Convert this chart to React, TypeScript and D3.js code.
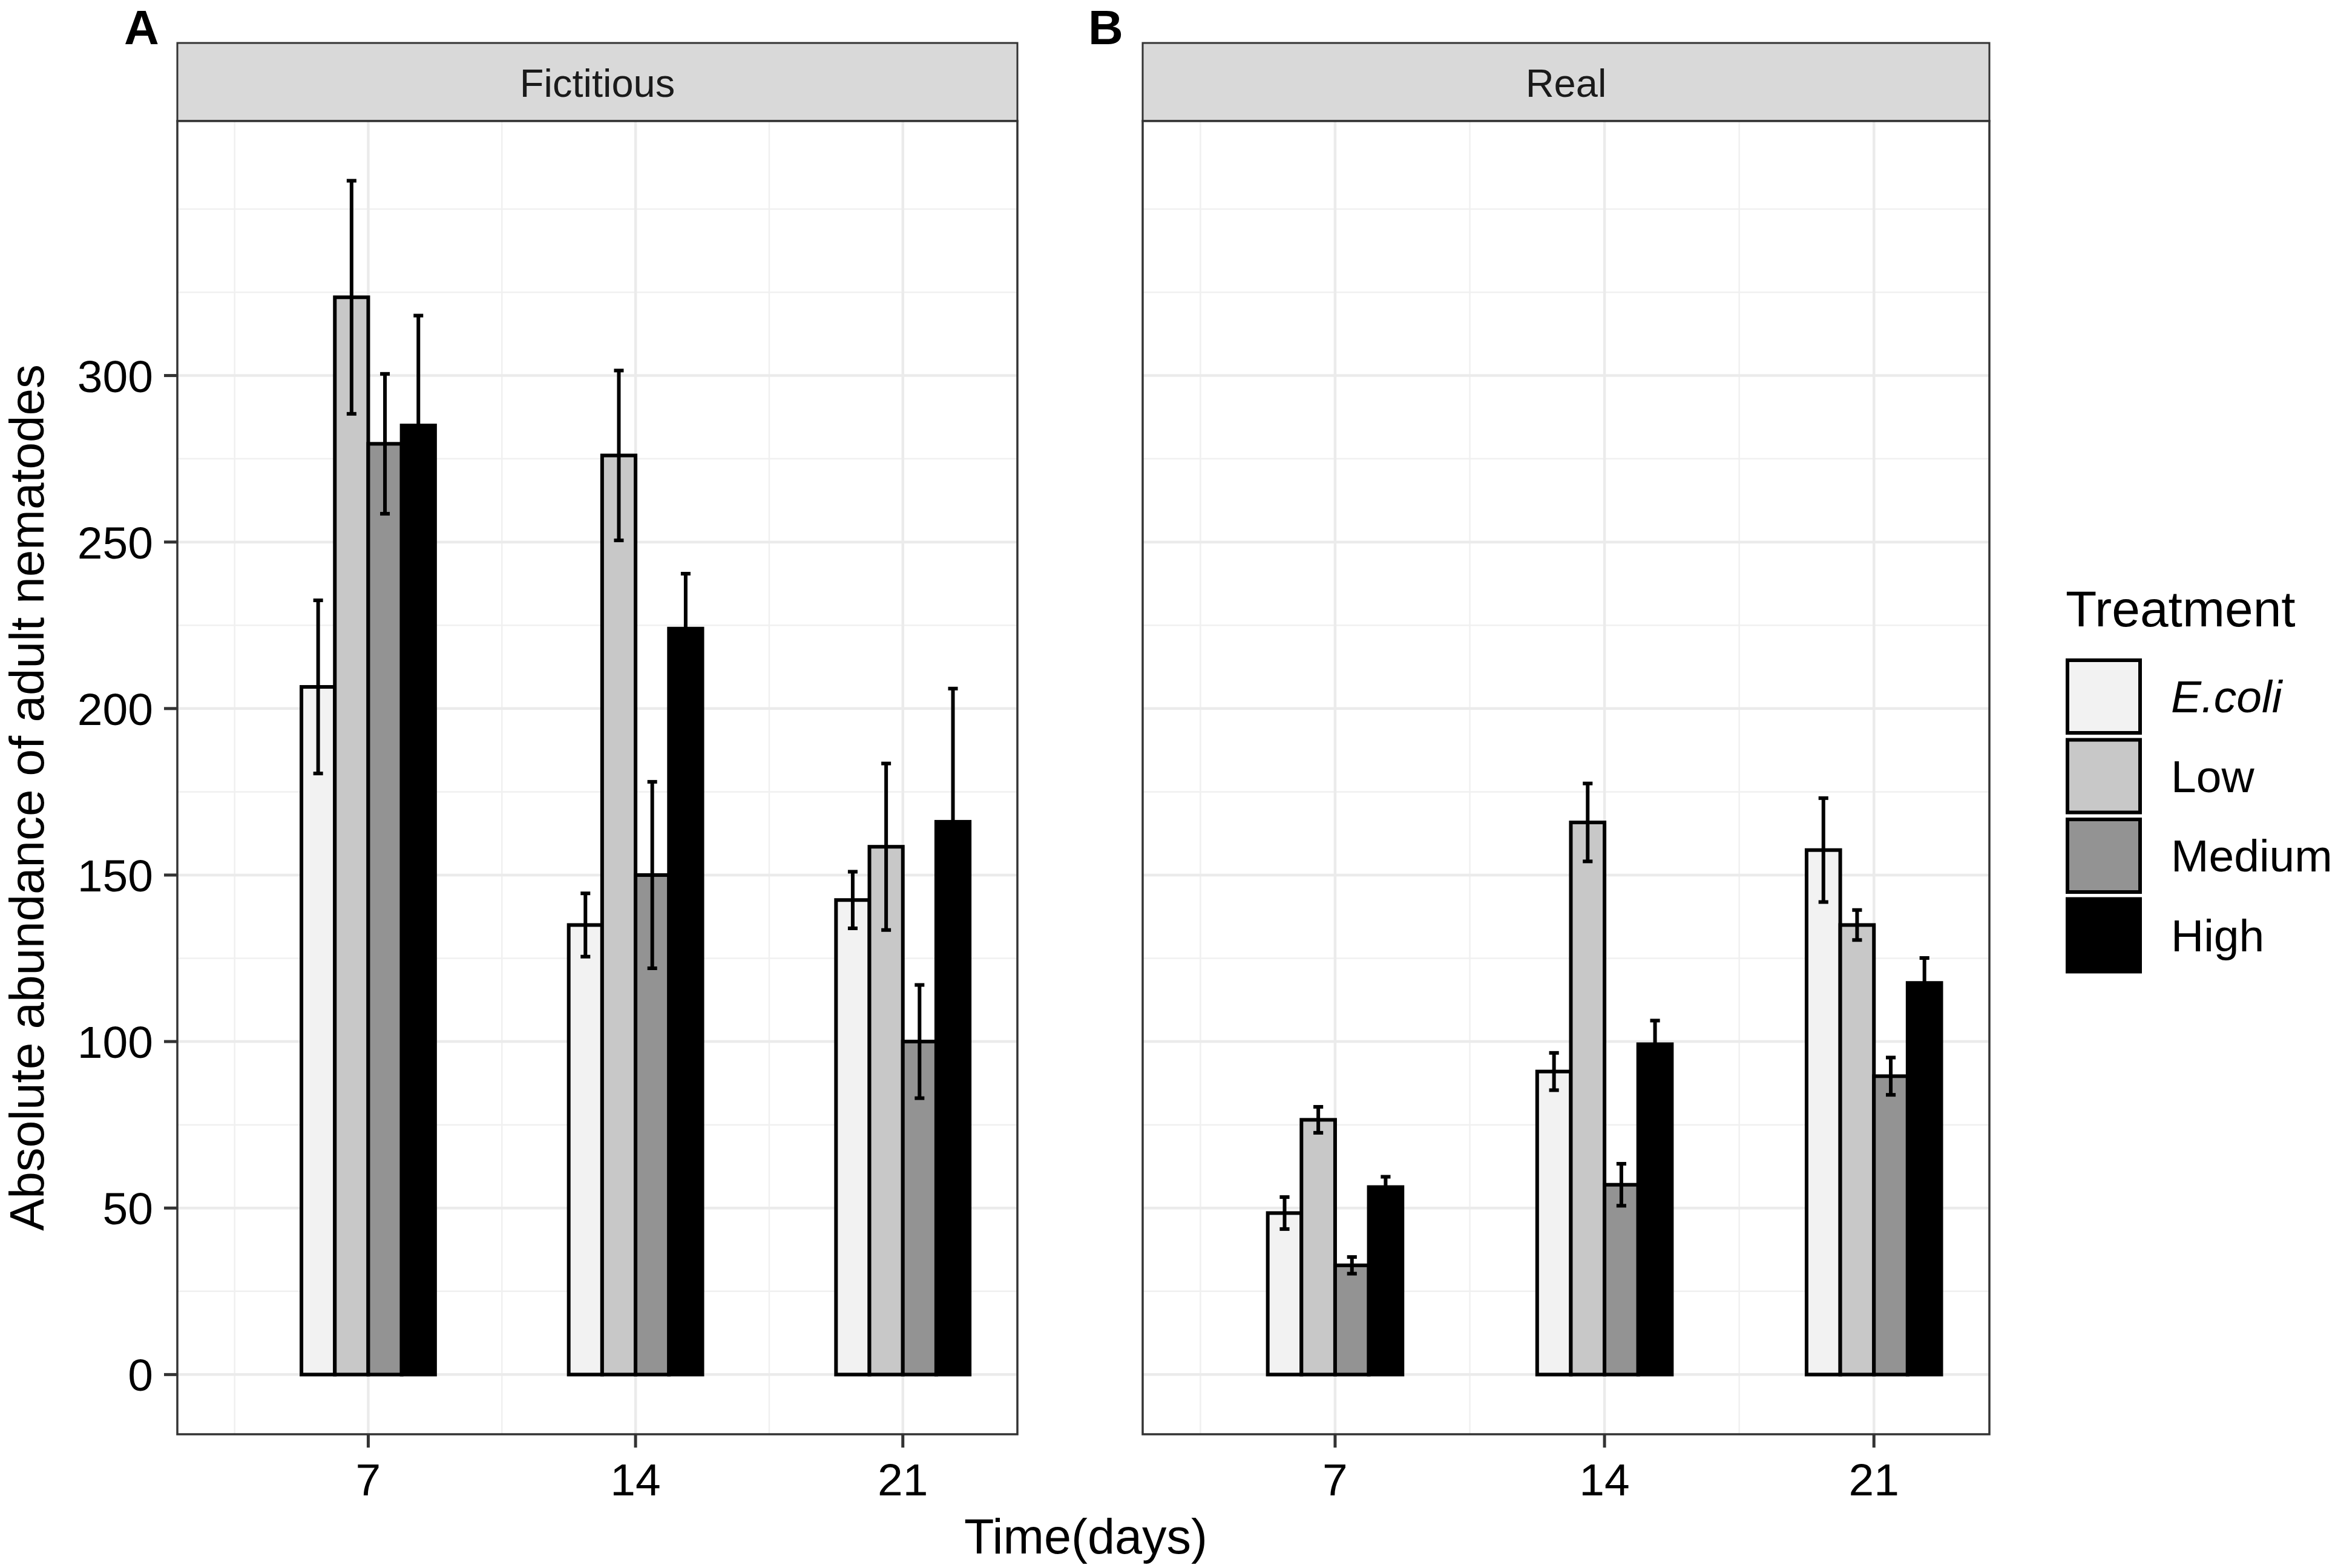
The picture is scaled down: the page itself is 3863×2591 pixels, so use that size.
import React from 'react';
import * as d3 from 'd3';

// ---- data ----
const DAYS = [7, 14, 21];
const TREATMENTS = ['E.coli', 'Low', 'Medium', 'High'];
const FILLS = ['#f2f2f2', '#c8c8c8', '#939393', '#000000'];

// Fictitious: mean per treatment, one value per day
const FICT_ECOLI = [206.5, 135, 142.5];
const FICT_LOW = [323.5, 276, 158.5];
const FICT_MEDIUM = [279.5, 150, 100];
const FICT_HIGH = [285, 224, 166];
const FICT_ECOLI_SE = [26, 9.5, 8.5];
const FICT_LOW_SE = [35, 25.5, 25];
const FICT_MEDIUM_SE = [21, 28, 17];
const FICT_HIGH_SE = [33, 16.5, 40];

// Real
const REAL_ECOLI = [48.5, 91, 157.5];
const REAL_LOW = [76.5, 165.8, 135];
const REAL_MEDIUM = [32.8, 57, 89.6];
const REAL_HIGH = [56.3, 99.2, 117.6];
const REAL_ECOLI_SE = [4.8, 5.6, 15.6];
const REAL_LOW_SE = [3.9, 11.7, 4.5];
const REAL_MEDIUM_SE = [2.5, 6.3, 5.6];
const REAL_HIGH_SE = [3.1, 7.1, 7.5];

const Y_TICKS = [0, 50, 100, 150, 200, 250, 300];

// ---- layout ----
const W = 3863;
const H = 2591;
const FONT = '"Liberation Sans", Arial, Helvetica, sans-serif';
const STRIP_TOP = 71;
const PLOT_TOP = 200;
const PLOT_BOTTOM = 2370;
const GROUP_W = 3.5; // days covered by one dodged group
const BAR_W = GROUP_W / TREATMENTS.length;
const CAP_FRAC = 0.29;

const PANELS = [
  {
    name: 'Fictitious', tag: 'A', tagX: 205, left: 293, right: 1681, showY: true,
    means: [FICT_ECOLI, FICT_LOW, FICT_MEDIUM, FICT_HIGH],
    ses: [FICT_ECOLI_SE, FICT_LOW_SE, FICT_MEDIUM_SE, FICT_HIGH_SE],
  },
  {
    name: 'Real', tag: 'B', tagX: 1798, left: 1888, right: 3287, showY: false,
    means: [REAL_ECOLI, REAL_LOW, REAL_MEDIUM, REAL_HIGH],
    ses: [REAL_ECOLI_SE, REAL_LOW_SE, REAL_MEDIUM_SE, REAL_HIGH_SE],
  },
];

// shared y scale, ggplot-like 5% expansion around [0, max(mean + se)]
const yMax = d3.max(PANELS.flatMap((p) => p.means.flatMap((m, i) => m.map((v, j) => v + p.ses[i][j])))) ?? 0;
const yPad = yMax * 0.05;
const y = d3.scaleLinear().domain([-yPad, yMax + yPad]).range([PLOT_BOTTOM, PLOT_TOP]);

// ggplot-style minor breaks: midpoints of the (one-step extended) major breaks
function minorBreaks(major: number[], lo: number, hi: number) {
  const step = major[1] - major[0];
  const ext = [major[0] - step, ...major, major[major.length - 1] + step];
  const out: number[] = [];
  for (let i = 0; i < ext.length; i++) {
    out.push(ext[i]);
    if (i < ext.length - 1) out.push((ext[i] + ext[i + 1]) / 2);
  }
  return out.filter((v) => v >= lo && v <= hi && !major.includes(v));
}

const yMinor = minorBreaks(Y_TICKS, y.domain()[0], y.domain()[1]);
const X_DOMAIN: [number, number] = [2, 24];
const xMinor = minorBreaks(DAYS, X_DOMAIN[0], X_DOMAIN[1]);

function Panel({ p }: { p: (typeof PANELS)[number] }) {
  const x = d3.scaleLinear().domain(X_DOMAIN).range([p.left, p.right]);
  const bw = x(BAR_W) - x(0);
  const cap = bw * CAP_FRAC;
  const mid = (p.left + p.right) / 2;

  const bars = DAYS.flatMap((day, j) =>
    TREATMENTS.map((t, i) => {
      const x0 = x(day - GROUP_W / 2 + i * BAR_W);
      return { key: `${t}-${day}`, i, x0, cx: x0 + bw / 2, v: p.means[i][j], se: p.ses[i][j] };
    })
  );

  return (
    <g>
      {/* strip */}
      <rect x={p.left} y={STRIP_TOP} width={p.right - p.left} height={PLOT_TOP - STRIP_TOP}
        fill="#d9d9d9" stroke="#333333" strokeWidth={3} />
      <text x={mid} y={(STRIP_TOP + PLOT_TOP) / 2 + 2} textAnchor="middle" dominantBaseline="central"
        fontSize={65} fill="#1a1a1a">{p.name}</text>

      {/* panel background + grid */}
      <rect x={p.left} y={PLOT_TOP} width={p.right - p.left} height={PLOT_BOTTOM - PLOT_TOP} fill="#ffffff" />
      {yMinor.map((v) => (
        <line key={`ym${v}`} x1={p.left} x2={p.right} y1={y(v)} y2={y(v)} stroke="#f0f0f0" strokeWidth={2.5} />
      ))}
      {xMinor.map((v) => (
        <line key={`xm${v}`} x1={x(v)} x2={x(v)} y1={PLOT_TOP} y2={PLOT_BOTTOM} stroke="#f0f0f0" strokeWidth={2.5} />
      ))}
      {Y_TICKS.map((v) => (
        <line key={`yM${v}`} x1={p.left} x2={p.right} y1={y(v)} y2={y(v)} stroke="#ebebeb" strokeWidth={4.5} />
      ))}
      {DAYS.map((v) => (
        <line key={`xM${v}`} x1={x(v)} x2={x(v)} y1={PLOT_TOP} y2={PLOT_BOTTOM} stroke="#ebebeb" strokeWidth={4.5} />
      ))}

      {/* bars */}
      {bars.map((b) => (
        <rect key={b.key} x={b.x0} y={y(b.v)} width={bw} height={y(0) - y(b.v)}
          fill={FILLS[b.i]} stroke="#000000" strokeWidth={6} />
      ))}

      {/* error bars */}
      {bars.map((b) => (
        <g key={`e${b.key}`} stroke="#000000" strokeWidth={6}>
          <line x1={b.cx} x2={b.cx} y1={y(b.v + b.se)} y2={y(b.v - b.se)} />
          <line x1={b.cx - cap / 2} x2={b.cx + cap / 2} y1={y(b.v + b.se)} y2={y(b.v + b.se)} />
          <line x1={b.cx - cap / 2} x2={b.cx + cap / 2} y1={y(b.v - b.se)} y2={y(b.v - b.se)} />
        </g>
      ))}

      {/* border */}
      <rect x={p.left} y={PLOT_TOP} width={p.right - p.left} height={PLOT_BOTTOM - PLOT_TOP}
        fill="none" stroke="#333333" strokeWidth={3.5} />

      {/* x axis */}
      {DAYS.map((d) => (
        <g key={`xt${d}`}>
          <line x1={x(d)} x2={x(d)} y1={PLOT_BOTTOM} y2={PLOT_BOTTOM + 22} stroke="#333333" strokeWidth={5} />
          <text x={x(d)} y={2471} textAnchor="middle" fontSize={75} fill="#000000">{d}</text>
        </g>
      ))}

      {/* y axis */}
      {p.showY && Y_TICKS.map((v) => (
        <g key={`yt${v}`}>
          <line x1={p.left - 22} x2={p.left} y1={y(v)} y2={y(v)} stroke="#333333" strokeWidth={5} />
          <text x={p.left - 40} y={y(v) + 27} textAnchor="end" fontSize={75} fill="#000000">{v}</text>
        </g>
      ))}

      {/* panel tag */}
      <text x={p.tagX} y={73} fontSize={80} fontWeight="bold" fill="#000000">{p.tag}</text>
    </g>
  );
}

export default function App() {
  const keyX = 3413;
  const keyTop = 1088;
  const keySize = 126;
  const keyPitch = 131.5;

  return (
    <svg width={W} height={H} viewBox={`0 0 ${W} ${H}`}
      style={{ position: 'absolute', left: 0, top: 0, background: '#ffffff', fontFamily: FONT }}>
      <rect x={0} y={0} width={W} height={H} fill="#ffffff" />
      {PANELS.map((p) => <Panel key={p.name} p={p} />)}

      {/* axis titles */}
      <text transform={`translate(72,1318) rotate(-90)`} textAnchor="middle" fontSize={80} fill="#000000">
        Absolute abundance of adult nematodes
      </text>
      <text x={1794} y={2567} textAnchor="middle" fontSize={81} fill="#000000">Time(days)</text>

      {/* legend */}
      <text x={keyX} y={1035} fontSize={84} fill="#000000">Treatment</text>
      {TREATMENTS.map((t, i) => (
        <g key={t}>
          <rect x={keyX + 3} y={keyTop + i * keyPitch + 3} width={keySize - 6} height={keySize - 6}
            fill={FILLS[i]} stroke="#000000" strokeWidth={6} />
          <text x={3587} y={keyTop + i * keyPitch + keySize / 2} dominantBaseline="central"
            fontSize={75} fontStyle={i === 0 ? 'italic' : 'normal'} fill="#000000">{t}</text>
        </g>
      ))}
    </svg>
  );
}
